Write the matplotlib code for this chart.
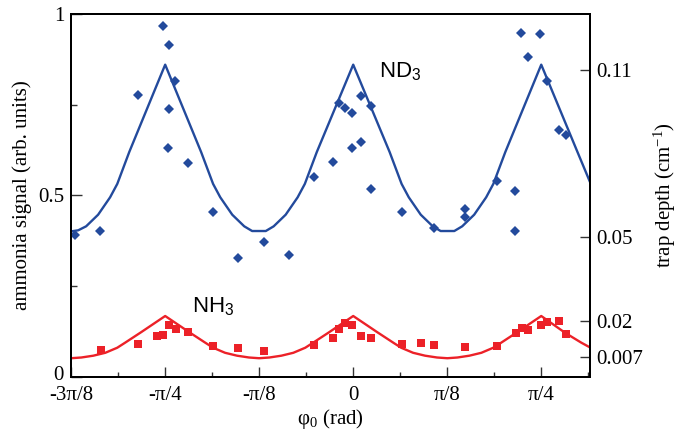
import numpy as np
import matplotlib

matplotlib.use("Agg")
import matplotlib.pyplot as plt
import matplotlib.transforms as mtransforms
from matplotlib.ticker import FixedLocator

plt.rcParams["font.family"] = ["Liberation Serif", "DejaVu Serif"]
plt.rcParams["mathtext.fontset"] = "custom"
plt.rcParams["mathtext.rm"] = "Liberation Serif"
plt.rcParams["mathtext.it"] = "Liberation Serif:italic"
plt.rcParams["mathtext.sf"] = "Liberation Sans"

BLUE = "#234a9c"
RED = "#ec2128"
P8 = np.pi / 8

# ND3 measured signal (phi0 in rad, signal in arb. units)
nd3_phi = [-1.163, -1.058, -0.899, -0.794, -0.769, -0.742, -0.769, -0.774,
           -0.689, -0.585, -0.479, -0.373, -0.269, -0.164, -0.085, -0.058,
           -0.033, -0.005, -0.007, 0.031, 0.031, 0.073, 0.073, 0.203, 0.336,
           0.465, 0.465, 0.599, 0.677, 0.677, 0.702, 0.781, 0.729, 0.808,
           0.859, 0.887]
nd3_sig = [0.391, 0.401, 0.776, 0.969, 0.916, 0.816, 0.740, 0.630,
           0.590, 0.455, 0.327, 0.373, 0.337, 0.551, 0.592, 0.754,
           0.741, 0.728, 0.631, 0.647, 0.774, 0.746, 0.517, 0.454, 0.411,
           0.463, 0.440, 0.539, 0.513, 0.403, 0.948, 0.946, 0.883, 0.817,
           0.682, 0.666]

# NH3 measured signal
nh3_phi = [-1.055, -0.898, -0.819, -0.794, -0.769, -0.741, -0.691, -0.585,
           -0.479, -0.373, -0.163, -0.086, -0.058, -0.033, -0.005, 0.031,
           0.073, 0.203, 0.283, 0.336, 0.467, 0.599, 0.678, 0.703, 0.730,
           0.782, 0.808, 0.860, 0.887]
nh3_sig = [0.073, 0.089, 0.112, 0.114, 0.142, 0.132, 0.124, 0.085,
           0.080, 0.070, 0.087, 0.106, 0.131, 0.149, 0.142, 0.112,
           0.107, 0.089, 0.092, 0.087, 0.082, 0.085, 0.121, 0.135, 0.128,
           0.142, 0.152, 0.154, 0.119]

# calculated trap depth curves (scaled to the left axis)
nd3_fit_phi = [-1.178, -1.148, -1.115, -1.065, -1.015, -0.985, -0.935, -0.785,
               -0.635, -0.585, -0.555, -0.505, -0.455, -0.422, -0.365, -0.332,
               -0.282, -0.232, -0.202, -0.152, 0.0, 0.152, 0.202, 0.232,
               0.282, 0.332, 0.365, 0.422, 0.455, 0.505, 0.555, 0.585,
               0.635, 0.785, 0.935, 0.988]
nd3_fit_sig = [0.401, 0.404, 0.415, 0.447, 0.495, 0.532, 0.620, 0.861,
               0.620, 0.532, 0.495, 0.447, 0.415, 0.402, 0.402, 0.415,
               0.447, 0.495, 0.532, 0.620, 0.861, 0.620, 0.532, 0.495,
               0.447, 0.415, 0.402, 0.402, 0.415, 0.447, 0.495, 0.532,
               0.620, 0.861, 0.622, 0.538]

nh3_fit_phi = [-1.178, -1.135, -1.085, -1.035, -0.985, -0.952, -0.885, -0.785,
               -0.685, -0.618, -0.585, -0.535, -0.485, -0.435, -0.393, -0.350,
               -0.300, -0.250, -0.200, -0.167, -0.100, 0.0, 0.100, 0.167,
               0.200, 0.250, 0.300, 0.350, 0.393, 0.435, 0.485, 0.535,
               0.585, 0.618, 0.685, 0.785, 0.885, 0.952, 0.988]
nh3_fit_sig = [0.051, 0.053, 0.058, 0.066, 0.080, 0.094, 0.123, 0.1675,
               0.123, 0.094, 0.080, 0.066, 0.058, 0.053, 0.051, 0.053,
               0.058, 0.066, 0.080, 0.094, 0.123, 0.1675, 0.123, 0.094,
               0.080, 0.066, 0.058, 0.053, 0.051, 0.053, 0.058, 0.066,
               0.080, 0.094, 0.123, 0.1675, 0.121, 0.094, 0.081]

x_ticks = [-3 * P8, -2 * P8, -P8, 0, P8, 2 * P8]
x_labels = ["-3\u03c0/8", "-\u03c0/4", "-\u03c0/8", "0", "\u03c0/8", "\u03c0/4"]
y_ticks = [0, 0.5, 1]
y_labels = ["0", "0.5", "1"]
depth_ticks = [0.007, 0.02, 0.05, 0.11]
depth_labels = ["0.007", "0.02", "0.05", "0.11"]

fig = plt.figure(figsize=(6.79, 4.33), dpi=100)
ax = fig.add_axes([0.1046, 0.130, 0.764, 0.837])

ax.plot(nd3_fit_phi, nd3_fit_sig, color=BLUE, lw=1.7, zorder=2)
ax.plot(nh3_fit_phi, nh3_fit_sig, color=RED, lw=1.7, zorder=2)
ax.plot(nd3_phi, nd3_sig, "D", color=BLUE, ms=4.6, mew=0, zorder=3)
ax.plot(nh3_phi, nh3_sig, "s", color=RED, ms=5.2, mew=0, zorder=3)

ax.set_xlim(-3 * P8, 0.9876)
ax.set_ylim(0, 1)
ax.set_xticks(x_ticks)
ax.set_xticklabels(x_labels)
ax.xaxis.set_minor_locator(FixedLocator([-5 * P8 / 2, -3 * P8 / 2, -P8 / 2,
                                         P8 / 2, 3 * P8 / 2, 5 * P8 / 2]))
ax.set_yticks(y_ticks)
ax.set_yticklabels(y_labels)
ax.yaxis.set_minor_locator(FixedLocator([0.25, 0.75]))

ax.tick_params(which="both", direction="in", labelsize=15, top=False,
               right=False, width=1.0, color="#333333")
ax.tick_params(axis="x", which="major", length=7, pad=7)
ax.tick_params(axis="x", which="minor", length=3.5)
ax.tick_params(axis="y", which="major", length=8, pad=5)
ax.tick_params(axis="y", which="minor", length=4.5)

# the "0" on the left axis sits a little above its tick in the original
zero_lbl = ax.get_yticklabels()[0]
zero_lbl.set_transform(zero_lbl.get_transform() +
                       mtransforms.ScaledTranslation(0, 4 / 100, fig.dpi_scale_trans))

ax2 = ax.twinx()
ax2.set_ylim(0, 0.13)
ax2.set_yticks(depth_ticks)
ax2.set_yticklabels(depth_labels)
ax2.tick_params(direction="in", length=7.5, width=1.0, color="#333333",
                labelsize=15, pad=5)

for a in (ax, ax2):
    for s in a.spines.values():
        s.set_linewidth(1.4)

ax.set_ylabel("ammonia signal (arb. units)", fontsize=15, labelpad=4)
ax2.set_ylabel("trap depth (cm$^{-1}$)", fontsize=15, labelpad=6)
ax.set_xlabel("\u03c6$_0$ (rad)", fontsize=15, labelpad=1)

ax.text(0.107, 0.843, "ND$_\\mathsf{3}$", fontsize=16, family="Liberation Sans",
        va="center", ha="left")
ax.text(-0.671, 0.194, "NH$_\\mathsf{3}$", fontsize=16, family="Liberation Sans",
        va="center", ha="left")

fig.savefig("out.png", dpi=100)
